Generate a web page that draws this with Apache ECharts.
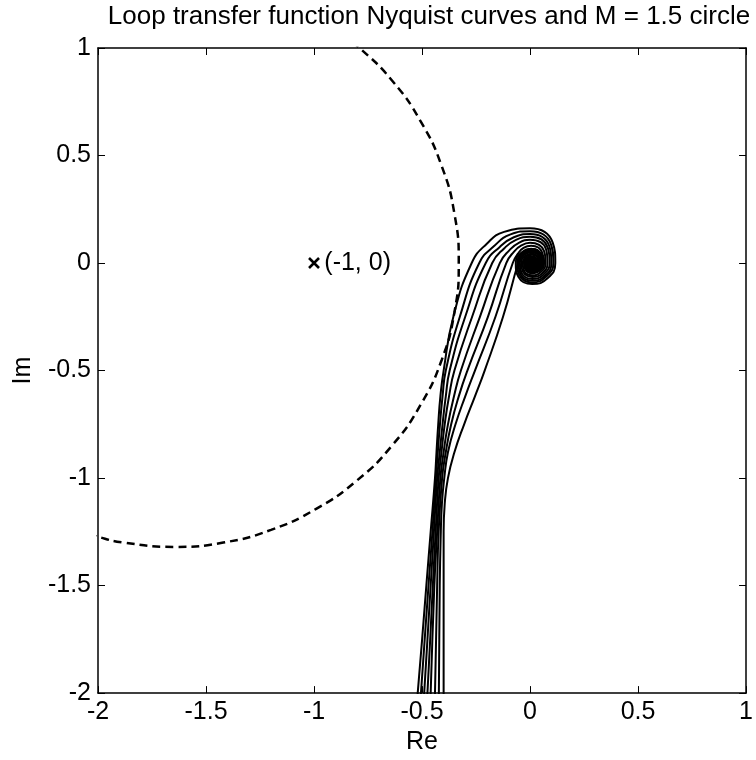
<!DOCTYPE html>
<html>
<head>
<meta charset="utf-8">
<script src="https://cdn.jsdelivr.net/npm/echarts@6/dist/echarts.min.js"></script>
<style>html,body{margin:0;padding:0;background:#fff}#chart{width:756px;height:760px}</style>
</head>
<body>
<div id="chart"></div>
<script>
// ---- data ----
const chartTitle = 'Loop transfer function Nyquist curves and M = 1.5 circle';
const xTicks = [-2, -1.5, -1, -0.5, 0, 0.5, 1];
const yTicks = [-2, -1.5, -1, -0.5, 0, 0.5, 1];
const xName = 'Re';
const yName = 'Im';
const criticalPoint = [[-1, 0]];
const criticalLabel = '(-1, 0)';

// M = 1.5 circle (dashed), points read along the visible arc
const mCircle = [[-2.10,-1.24],[-2,-1.273],[-1.88,-1.30],[-1.65,-1.32],[-1.42,-1.30],[-1.199,-1.241],[-0.99,-1.143],[-0.801,-1.011],[-0.639,-0.849],[-0.507,-0.66],[-0.409,-0.451],[-0.35,-0.229],[-0.33,0],[-0.35,0.229],[-0.409,0.451],[-0.507,0.66],[-0.639,0.849],[-0.789,1.0],[-0.88,1.07]];

// Nyquist curves (outermost to innermost)
const nyqA = [[-0.535,-2.15],[-0.52,-2],[-0.48,-1.5],[-0.46,-1.25],[-0.44,-1.0],[-0.433,-0.88],[-0.425,-0.75],[-0.415,-0.62],[-0.40,-0.5],[-0.355,-0.25],[-0.27,0],[-0.20,0.09],[-0.12,0.145],[0.0,0.162],[0.105,0.095],[0.117,0],[0.081,-0.071],[0.01,-0.098],[-0.054,-0.064],[-0.066,0],[-0.039,0.049],[0.01,0.065],[0.052,0.042],[0.065,0],[0.045,-0.035],[0.01,-0.045],[-0.018,-0.028],[-0.026,0],[-0.013,0.023],[0.01,0.028],[0.028,0.018],[0.032,0],[0.023,-0.013],[0.01,-0.016],[0.001,-0.009],[-0.001,0],[0.004,0.006],[0.01,0.008],[0.015,0.005],[0.016,0],[0.01,-0.004],[0.007,0]];
const nyqB = [[-0.515,-2.15],[-0.505,-2],[-0.47,-1.5],[-0.452,-1.25],[-0.436,-1.0],[-0.427,-0.88],[-0.417,-0.75],[-0.405,-0.62],[-0.39,-0.5],[-0.325,-0.25],[-0.235,0],[-0.165,0.08],[-0.09,0.133],[0.0,0.148],[0.097,0.087],[0.108,0],[0.074,-0.064],[0.01,-0.09],[-0.048,-0.058],[-0.059,0],[-0.035,0.045],[0.01,0.059],[0.049,0.039],[0.06,0],[0.043,-0.033],[0.01,-0.041],[-0.016,-0.026],[-0.023,0],[-0.011,0.021],[0.01,0.026],[0.026,0.016],[0.03,0],[0.022,-0.012],[0.01,-0.015],[0.002,-0.008],[0.0,0],[0.004,0.007],[0.01,0.009],[0.017,0.006],[0.019,0],[0.014,-0.006],[0.01,-0.007],[0.004,-0.003],[0.005,0.002]];
const nyqC = [[-0.50,-2.15],[-0.49,-2],[-0.46,-1.5],[-0.445,-1.25],[-0.43,-1.0],[-0.418,-0.88],[-0.405,-0.75],[-0.39,-0.62],[-0.372,-0.5],[-0.30,-0.25],[-0.205,0],[-0.14,0.075],[-0.075,0.12],[0.0,0.135],[0.089,0.079],[0.099,0],[0.069,-0.059],[0.01,-0.082],[-0.043,-0.053],[-0.053,0],[-0.031,0.041],[0.01,0.054],[0.045,0.035],[0.056,0],[0.04,-0.03],[0.01,-0.037],[-0.013,-0.023],[-0.02,0],[-0.009,0.019],[0.01,0.023],[0.025,0.015],[0.028,0],[0.021,-0.011],[0.01,-0.013],[0.002,-0.007],[0.0,0],[0.004,0.006],[0.01,0.007],[0.015,0.004],[0.016,0],[0.012,-0.004]];
const nyqD = [[-0.485,-2.15],[-0.475,-2],[-0.45,-1.5],[-0.437,-1.25],[-0.423,-1.0],[-0.41,-0.88],[-0.395,-0.75],[-0.375,-0.62],[-0.35,-0.5],[-0.268,-0.25],[-0.175,0],[-0.12,0.068],[-0.065,0.108],[0.0,0.122],[0.082,0.072],[0.091,0],[0.063,-0.053],[0.01,-0.074],[-0.038,-0.048],[-0.047,0],[-0.027,0.037],[0.01,0.049],[0.042,0.032],[0.051,0],[0.037,-0.027],[0.01,-0.034],[-0.011,-0.021],[-0.017,0],[-0.007,0.017],[0.01,0.021],[0.023,0.013],[0.027,0],[0.02,-0.011],[0.01,-0.012],[0.002,-0.006],[0.001,0.001],[0.006,0.006],[0.012,0.006],[0.014,0.001]];
const nyqE = [[-0.465,-2.15],[-0.46,-2],[-0.443,-1.5],[-0.43,-1.25],[-0.415,-1.0],[-0.40,-0.88],[-0.38,-0.75],[-0.352,-0.62],[-0.32,-0.5],[-0.232,-0.25],[-0.14,0],[-0.095,0.06],[-0.05,0.095],[0.0,0.108],[0.074,0.064],[0.081,0],[0.057,-0.047],[0.01,-0.065],[-0.032,-0.042],[-0.041,0],[-0.023,0.033],[0.01,0.043],[0.038,0.028],[0.047,0],[0.033,-0.023],[0.01,-0.03],[-0.009,-0.019],[-0.014,0],[-0.005,0.015],[0.01,0.019],[0.022,0.012],[0.025,0],[0.019,-0.01],[0.01,-0.011],[0.003,-0.006],[0.002,0.002],[0.008,0.005],[0.013,0.003]];
const nyqF = [[-0.445,-2.15],[-0.44,-2],[-0.43,-1.5],[-0.423,-1.25],[-0.407,-1.0],[-0.39,-0.88],[-0.365,-0.75],[-0.33,-0.62],[-0.29,-0.5],[-0.195,-0.25],[-0.11,0],[-0.075,0.052],[-0.04,0.082],[0.0,0.094],[0.065,0.055],[0.072,0],[0.051,-0.041],[0.01,-0.057],[-0.027,-0.037],[-0.034,0],[-0.019,0.029],[0.01,0.038],[0.035,0.025],[0.042,0],[0.031,-0.021],[0.01,-0.026],[-0.006,-0.016],[-0.011,0],[-0.003,0.013],[0.01,0.016],[0.02,0.01],[0.023,0],[0.017,-0.009],[0.01,-0.01],[0.004,-0.005],[0.004,0.002],[0.009,0.004]];
const nyqG = [[-0.425,-2.15],[-0.422,-2],[-0.418,-1.5],[-0.413,-1.25],[-0.408,-1.12],[-0.397,-1.0],[-0.38,-0.88],[-0.345,-0.75],[-0.30,-0.62],[-0.255,-0.5],[-0.16,-0.25],[-0.08,0],[-0.055,0.045],[-0.03,0.07],[0.005,0.08],[0.057,0.047],[0.063,0],[0.045,-0.035],[0.01,-0.048],[-0.021,-0.031],[-0.028,0],[-0.015,0.025],[0.01,0.032],[0.031,0.021],[0.037,0],[0.028,-0.018],[0.01,-0.022],[-0.004,-0.014],[-0.009,0],[-0.002,0.011],[0.01,0.014],[0.018,0.009],[0.02,0],[0.015,-0.007],[0.009,-0.008],[0.005,-0.003],[0.006,0.002]];
const nyqH = [[-0.40,-2.15],[-0.40,-2],[-0.40,-1.5],[-0.40,-1.25],[-0.395,-1.12],[-0.38,-1.0],[-0.35,-0.88],[-0.305,-0.75],[-0.255,-0.62],[-0.21,-0.5],[-0.125,-0.25],[-0.055,0],[-0.04,0.035],[-0.02,0.058],[0.005,0.066],[0.049,0.039],[0.054,0],[0.039,-0.029],[0.01,-0.04],[-0.016,-0.026],[-0.021,0],[-0.01,0.02],[0.01,0.026],[0.027,0.017],[0.032,0],[0.024,-0.015],[0.01,-0.019],[-0.002,-0.012],[-0.006,0],[0.0,0.009],[0.01,0.012],[0.017,0.007],[0.018,0],[0.013,-0.006],[0.008,-0.005]];
const nyquistCurves = [nyqA, nyqB, nyqC, nyqD, nyqE, nyqF, nyqG, nyqH];

// ---- chart ----
const FONT = 'Liberation Sans, Arial, sans-serif';
const chart = echarts.init(document.getElementById('chart'), null, {renderer: 'canvas'});
const fmt = v => String(Math.round(v * 100) / 100);

function axisCommon(ticks, isMain) {
  return {
    type: 'value',
    min: ticks[0],
    max: ticks[ticks.length - 1],
    interval: ticks[1] - ticks[0],
    axisLine: {show: true, onZero: false, lineStyle: {color: '#000', width: 1.5}},
    axisTick: {show: true, inside: true, length: 7, lineStyle: {color: '#000', width: 1}},
    axisLabel: {show: isMain, color: '#000', fontSize: 25, fontFamily: FONT, margin: 7,
                showMinLabel: true, showMaxLabel: true, formatter: fmt},
    splitLine: {show: false}
  };
}

const series = [];
series.push({
  type: 'line', data: mCircle, xAxisIndex: 0, yAxisIndex: 0,
  showSymbol: false, smooth: true, clip: true, z: 2,
  lineStyle: {color: '#000', width: 2.5, type: [8, 5]}
});
nyquistCurves.forEach(c => series.push({
  type: 'line', data: c, xAxisIndex: 0, yAxisIndex: 0,
  showSymbol: false, smooth: true, clip: true, z: 3,
  lineStyle: {color: '#000', width: 2}
}));
series.push({
  type: 'scatter', data: criticalPoint, xAxisIndex: 0, yAxisIndex: 0,
  symbol: 'path://M0,0L10,10M10,0L0,10', symbolSize: 10, z: 4,
  itemStyle: {color: 'rgba(0,0,0,0)', borderColor: '#000', borderWidth: 2.6, opacity: 1},
  label: {show: true, position: 'right', distance: 4, formatter: criticalLabel, opacity: 1,
          color: '#000', fontSize: 25, fontFamily: FONT, textBorderWidth: 0}
});

chart.setOption({
  animation: false,
  backgroundColor: '#fff',
  title: {
    text: chartTitle, left: 424, top: -1, textAlign: 'center',
    textStyle: {color: '#000', fontSize: 26, fontWeight: 'normal', fontFamily: FONT}
  },
  grid: {left: 98, right: 3, top: 48, bottom: 60, containLabel: false},
  xAxis: [
    Object.assign(axisCommon(xTicks, true), {position: 'bottom', name: xName, nameLocation: 'middle', nameGap: 36,
      nameTextStyle: {color: '#000', fontSize: 25, fontFamily: FONT}}),
    Object.assign(axisCommon(xTicks, false), {position: 'top'})
  ],
  yAxis: [
    Object.assign(axisCommon(yTicks, true), {position: 'left', name: yName, nameLocation: 'middle', nameGap: 62,
      nameTextStyle: {color: '#000', fontSize: 25, fontFamily: FONT}}),
    Object.assign(axisCommon(yTicks, false), {position: 'right'})
  ],
  series: series
});
</script>
</body>
</html>
